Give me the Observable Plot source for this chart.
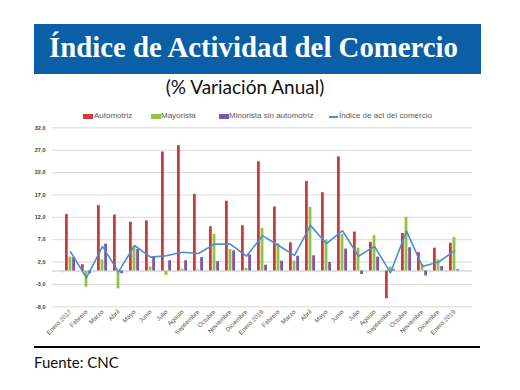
<!DOCTYPE html>
<html><head><meta charset="utf-8">
<script src="https://cdn.jsdelivr.net/npm/d3@7"></script>
<script src="https://cdn.jsdelivr.net/npm/@observablehq/plot@0.6"></script>
<style>
body{margin:0;width:520px;height:390px;background:#fff;position:relative;overflow:hidden;font-family:Lato,"Open Sans",sans-serif}
#title{position:absolute;left:34px;top:24px;width:447px;height:50px;background:#0a5fa6}
#title span{position:absolute;left:15px;top:5px;color:#fff;font-family:"Liberation Serif",serif;font-weight:bold;font-size:28.8px;line-height:36px;white-space:nowrap}
#sub{position:absolute;left:0;width:490px;top:75px;text-align:center;font-family:Lato,sans-serif;font-size:19px;color:#111;line-height:23px}
.lg{position:absolute;top:111px;font-family:"Liberation Sans",sans-serif;font-size:8px;color:#595959;line-height:9px;white-space:nowrap}
.sw{position:absolute;top:114px;width:10px;height:5px}
#chart{position:absolute;left:0;top:105px}
#rule{position:absolute;left:34px;top:346px;width:446px;height:1.5px;background:#000}
#src{position:absolute;left:34px;top:353px;font-family:Lato,sans-serif;font-size:15px;color:#111;line-height:18px}
</style></head>
<body>
<div id="title"><span>Índice de Actividad del Comercio</span></div>
<div id="sub">(% Variación Anual)</div>
<div id="legend"></div>
<div id="chart"></div>
<div id="rule"></div>
<div id="src">Fuente: CNC</div>
<script>
const meses = ["Enero 2017","Febrero","Marzo","Abril","Mayo","Junio","Julio","Agosto","Septiembre","Octubre","Noviembre","Diciembre","Enero 2018","Febrero","Marzo","Abril","Mayo","Junio","Julio","Agosto","Septiembre","Octubre","Noviembre","Diciembre","Enero 2019"];
const automotriz = [12.6, 1.4, 14.6, 12.5, 10.9, 11.2, 26.6, 28.0, 17.1, 9.9, 15.6, 10.1, 24.4, 14.3, 6.3, 20.0, 17.5, 25.5, 8.7, 6.4, -6.2, 8.4, 4.1, 5.1, 6.2];
const mayorista = [3.1, -3.6, 2.5, -4.0, 5.5, 0.9, -1.0, 0.4, 0.2, 8.2, 4.8, 0.6, 9.5, 6.1, 2.2, 14.2, 6.9, 8.2, 5.1, 7.9, 0.9, 12.0, 1.5, 2.5, 7.5];
const minorista = [3.0, -0.6, 6.0, -0.6, 4.8, 3.1, 2.3, 2.3, 3.0, 2.1, 4.5, 3.6, 1.3, 2.2, 3.3, 3.4, 1.9, 4.9, -0.8, 3.1, 0.3, 5.2, -1.1, 1.0, 0.3];
const indice = [4.3, -1.5, 5.5, -0.2, 5.7, 3.1, 3.4, 4.2, 3.9, 6.0, 6.0, 3.3, 7.9, 5.7, 3.5, 10.2, 6.1, 9.0, 3.3, 5.5, -0.4, 8.9, 1.0, 2.0, 4.5];
const series = ["Automotriz","Mayorista","Minorista sin automotriz","Índice de act del comercio"];
const yTicks = [32, 27, 22, 17, 12, 7, 2, -3, -8];

const colors = {red:"#d03a3d", green:"#92c440", purple:"#7d57a9", blue:"#4a8ed6"};
const idx = d3.range(meses.length);

// legend
const lg = document.getElementById("legend");
const lgPos = [[83,94,colors.red,"sw"],[151,161,colors.green,"sw"],[219,229,colors.purple,"sw"],[329,339,colors.blue,"ln"]];
series.forEach((s,i)=>{
  const [sx,tx,c,k] = lgPos[i];
  const sw = document.createElement("div");
  sw.className = "sw";
  sw.style.left = sx+"px"; sw.style.background = c;
  if (k==="ln"){ sw.style.top="116px"; sw.style.height="1.5px"; sw.style.width="9px"; }
  lg.appendChild(sw);
  const t = document.createElement("div");
  t.className="lg"; t.style.left = tx+"px"; t.textContent = s;
  lg.appendChild(t);
});

const fmt = d => d.toFixed(1).replace(".", ",");
const chart = Plot.plot({
  width: 520, height: 240,
  marginTop: 22.3, marginBottom: 38.7, marginLeft: 52, marginRight: 48,
  style: {background: "transparent", fontFamily: "'Liberation Sans', sans-serif"},
  x: {type: "band", domain: idx, padding: 0},
  y: {domain: [-8, 32]},
  marks: [
    Plot.ruleY(yTicks, {stroke: "#d9d9d9", strokeWidth: 1}),
    Plot.ruleY([0], {stroke: "#c8c8c8", strokeWidth: 1}),
    Plot.ruleX(idx, {x: d => d, y1: 0, y2: -0.45, dx: -8.4, stroke: "#c8c8c8"}),
    Plot.barY(idx, {x: d => d, y: i => automotriz[i], fill: colors.red, insetLeft: 3, insetRight: 10.2}),
    Plot.barY(idx, {x: d => d, y: i => mayorista[i], fill: colors.green, insetLeft: 6.6, insetRight: 6.6}),
    Plot.barY(idx, {x: d => d, y: i => minorista[i], fill: colors.purple, insetLeft: 10.2, insetRight: 3}),
    Plot.line(idx, {x: d => d, y: i => indice[i], stroke: colors.blue, strokeWidth: 1.6}),
    Plot.axisY({ticks: yTicks, tickFormat: fmt, tickSize: 0, tickPadding: 7, label: null, fontSize: 5.5, fontWeight: "bold", fill: "#404040"}),
    Plot.axisX({tickFormat: i => meses[i], tickRotate: -45, tickSize: 0, tickPadding: 4, label: null, fontSize: 6.3, fill: "#595959"})
  ]
});
document.getElementById("chart").appendChild(chart);
</script>
</body></html>
